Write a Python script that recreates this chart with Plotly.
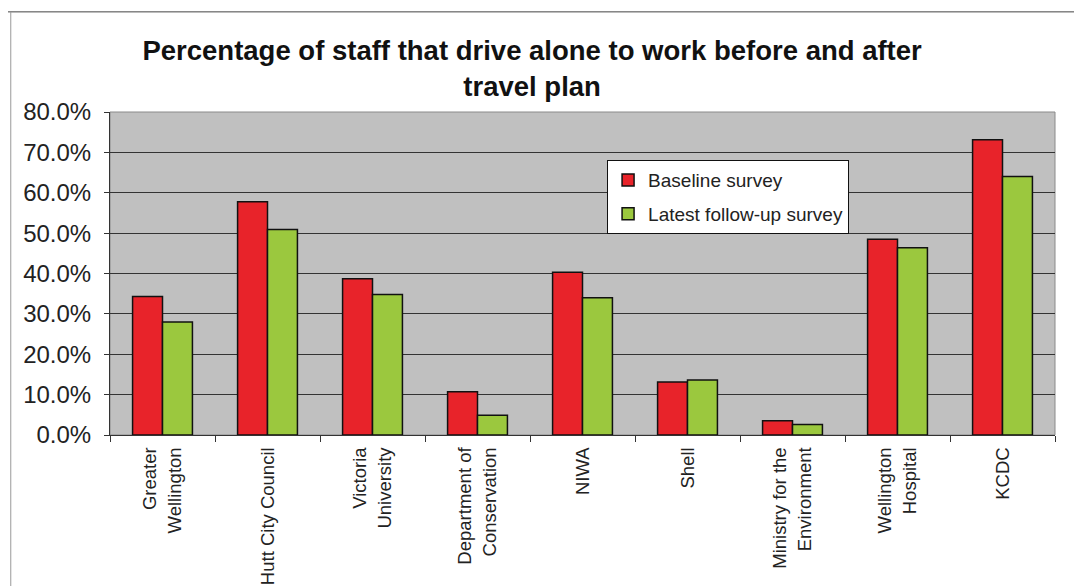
import plotly.graph_objects as go

categories = ["Greater<br>Wellington", "Hutt City Council", "Victoria<br>University",
              "Department of<br>Conservation", "NIWA", "Shell",
              "Ministry for the<br>Environment", "Wellington<br>Hospital", "KCDC"]
baseline = [0.343, 0.578, 0.387, 0.107, 0.403, 0.131, 0.035, 0.485, 0.731]
followup = [0.280, 0.509, 0.348, 0.049, 0.340, 0.136, 0.026, 0.464, 0.640]
y_ticks = [0, 0.1, 0.2, 0.3, 0.4, 0.5, 0.6, 0.7, 0.8]

fig = go.Figure()
fig.add_trace(go.Bar(x=categories, y=baseline, name="Baseline survey", legendgroup="a",
                     marker=dict(color="#E8232A", line=dict(color="#111111", width=1.5))))
fig.add_trace(go.Bar(x=categories, y=followup, name="Latest follow-up survey", legendgroup="b",
                     marker=dict(color="#9BC83E", line=dict(color="#111111", width=1.5))))

fig.update_layout(
    width=1074, height=578,
    margin=dict(l=102, r=27, t=104, b=151),
    paper_bgcolor="white", plot_bgcolor="#C0C0C0",
    barmode="group", bargap=0.43, bargroupgap=0,
    font=dict(family="Arial, Liberation Sans, sans-serif", color="#222222"),
    title=dict(text="<b>Percentage of staff that drive alone to work before and after<br>travel plan</b>",
               x=0.488, xref="container", xanchor="center",
               y=0.91, yref="container", yanchor="top",
               font=dict(size=27.5, color="#111111")),
    legend=dict(x=0.526, y=0.851, xanchor="left", yanchor="top",
                bgcolor="white", bordercolor="#111111", borderwidth=1,
                font=dict(size=19, color="#222222"), tracegroupgap=6,
                itemwidth=30),
    showlegend=True,
)
fig.update_yaxes(range=[0, 0.8], tickvals=y_ticks, tickformat=".1%",
                 showgrid=True, gridcolor="#333333", gridwidth=1,
                 ticks="outside", ticklen=5, tickcolor="#333333",
                 showline=True, linecolor="#333333", linewidth=1,
                 ticklabelstandoff=8, automargin=False,
                 tickfont=dict(size=24, color="#222222"), zeroline=False)
fig.update_xaxes(tickangle=-90, tickson="boundaries", ticks="outside", ticklen=6,
                 tickcolor="#333333", showline=True, linecolor="#333333", linewidth=1,
                 ticklabelstandoff=4, automargin=False,
                 tickfont=dict(size=18.5, color="#222222"))

# plot-area top/right border (grey) and outer chart frame
fig.add_shape(type="rect", xref="paper", yref="paper", x0=0, y0=0, x1=1, y1=1,
              line=dict(color="#8a8a8a", width=1), layer="below")
fig.add_shape(type="line", xref="paper", yref="paper", x0=-0.108, y0=1.31, x1=1.2, y1=1.31,
              line=dict(color="#444444", width=1))
fig.add_shape(type="line", xref="paper", yref="paper", x0=-0.105, y0=1.31, x1=-0.105, y1=-0.5,
              line=dict(color="#999999", width=1))

fig.write_html("out.html")
